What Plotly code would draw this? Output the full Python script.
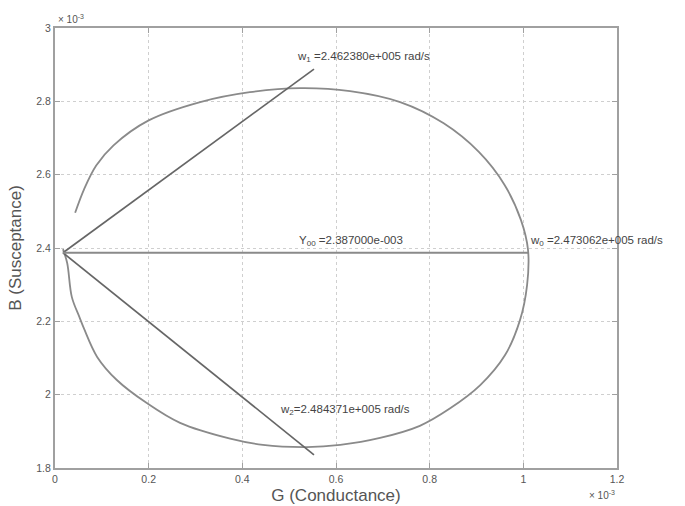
import plotly.graph_objects as go

# Admittance loop (G, B) in units of 1e-3
curve_g = [0.043, 0.062, 0.088, 0.125, 0.200, 0.310, 0.416, 0.523, 0.630, 0.737,
           0.830, 0.905, 0.960, 0.995, 1.010, 1.008, 0.993, 0.961, 0.908, 0.843,
           0.779, 0.694, 0.609, 0.538, 0.444, 0.374, 0.267, 0.196, 0.132, 0.090,
           0.062, 0.052, 0.036, 0.026, 0.017]
curve_b = [2.496, 2.560, 2.625, 2.680, 2.748, 2.798, 2.825, 2.836, 2.828, 2.798,
           2.740, 2.662, 2.572, 2.476, 2.395, 2.299, 2.204, 2.108, 2.026, 1.962,
           1.915, 1.882, 1.863, 1.857, 1.863, 1.880, 1.923, 1.977, 2.040, 2.103,
           2.180, 2.212, 2.266, 2.359, 2.397]

origin_g, origin_b = 0.017, 2.387
w1_g, w1_b = 0.553, 2.888
w2_g, w2_b = 0.553, 1.836
w0_g, w0_b = 1.010, 2.387

x_ticks = [0, 0.2, 0.4, 0.6, 0.8, 1, 1.2]
x_ticklabels = ["0", "0.2", "0.4", "0.6", "0.8", "1", "1.2"]
y_ticks = [1.8, 2.0, 2.2, 2.4, 2.6, 2.8, 3.0]
y_ticklabels = ["1.8", "2", "2.2", "2.4", "2.6", "2.8", "3"]

labels = [
    (0.513, 2.921, "w<sub>1</sub> =2.462380e+005 rad/s"),
    (0.517, 2.420, "Y<sub>00</sub> =2.387000e-003"),
    (1.011, 2.420, "w<sub>0</sub> =2.473062e+005 rad/s"),
    (0.476, 1.958, "w<sub>2</sub>=2.484371e+005 rad/s"),
]

font_family = "Liberation Sans, Arial, sans-serif"
fig = go.Figure()
fig.add_trace(go.Scatter(x=curve_g, y=curve_b, mode="lines",
                         line=dict(color="#8a8a8a", width=1.8, shape="spline", smoothing=1.0),
                         showlegend=False))
fig.add_trace(go.Scatter(x=[origin_g, w1_g], y=[origin_b, w1_b], mode="lines",
                         line=dict(color="#666666", width=1.7), showlegend=False))
fig.add_trace(go.Scatter(x=[origin_g, w2_g], y=[origin_b, w2_b], mode="lines",
                         line=dict(color="#666666", width=1.7), showlegend=False))
fig.add_trace(go.Scatter(x=[origin_g, w0_g], y=[origin_b, w0_b], mode="lines",
                         line=dict(color="#8a8a8a", width=2), showlegend=False))

for gx, by, txt in labels:
    fig.add_annotation(x=gx, y=by, text=txt, showarrow=False, xanchor="left",
                       yanchor="middle", font=dict(size=11.5, color="#444444", family=font_family))

fig.add_annotation(xref="paper", yref="paper", x=0.0, y=1.0, text="× 10<sup>-3</sup>",
                   showarrow=False, xanchor="left", yanchor="bottom", yshift=1, xshift=1,
                   font=dict(size=10, color="#555555", family=font_family))
fig.add_annotation(xref="paper", yref="paper", x=1.0, y=0.0, text="× 10<sup>-3</sup>",
                   showarrow=False, xanchor="right", yanchor="top", yshift=-19,
                   font=dict(size=10, color="#555555", family=font_family))

axis_common = dict(showgrid=True, gridcolor="#cfcfcf", griddash="dot", gridwidth=1,
                   showline=True, linecolor="#a0a0a0", linewidth=2, mirror="ticks",
                   ticks="inside", ticklen=5, tickcolor="#a0a0a0", zeroline=False,
                   automargin=False,
                   tickfont=dict(size=10.5, color="#555555", family=font_family))

fig.update_xaxes(range=[0, 1.2], tickvals=x_ticks, ticktext=x_ticklabels,
                 title=dict(text="G (Conductance)", standoff=6,
                            font=dict(size=17, color="#555555", family=font_family)),
                 **axis_common)
fig.update_yaxes(range=[1.8, 3.0], tickvals=y_ticks, ticktext=y_ticklabels,
                 title=dict(text="B (Susceptance)", standoff=10,
                            font=dict(size=17, color="#555555", family=font_family)),
                 **axis_common)

fig.update_layout(width=685, height=506, margin=dict(l=55, r=68, t=28, b=38),
                  plot_bgcolor="white", paper_bgcolor="white")

fig.write_html("out.html")
